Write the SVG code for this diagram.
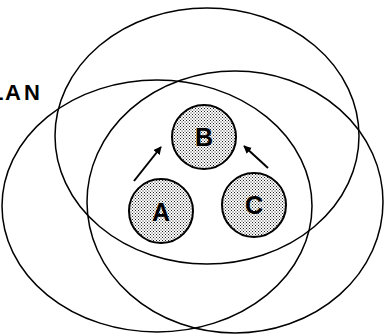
<svg xmlns="http://www.w3.org/2000/svg" width="384" height="334" viewBox="0 0 384 334">
<style>
.ell{fill:none;stroke:#000;stroke-width:1.5}
.node{fill:url(#dots);stroke:#000;stroke-width:2}
.lbl{font-family:"Liberation Sans",Arial,sans-serif;font-weight:bold;font-size:25px;text-anchor:middle;fill:#000}
.lan{font-family:"Liberation Sans",Arial,sans-serif;font-weight:bold;font-size:22px;fill:#000}
.arr{stroke:#000;stroke-width:2;marker-end:url(#ah)}
</style>
<defs>
<pattern id="dots" width="3" height="3" patternUnits="userSpaceOnUse">
<rect width="3" height="3" fill="#fff"/>
<rect x="0" y="0" width="1" height="1" fill="#222"/>
<rect x="1.5" y="1.5" width="1" height="1" fill="#222"/>
</pattern>
<marker id="ah" viewBox="0 0 10 10" refX="9" refY="5" markerWidth="4" markerHeight="4" orient="auto" markerUnits="strokeWidth">
<path d="M0,0 L10,5 L0,10 z" fill="#000"/>
</marker>
</defs>
<rect width="384" height="334" fill="#fff"/>
<g id="lans">
<ellipse class="ell" cx="207" cy="136" rx="152" ry="128"/>
<ellipse class="ell" cx="157" cy="206" rx="155" ry="126"/>
<ellipse class="ell" cx="235" cy="202" rx="148" ry="131"/>
</g>
<text class="lan" x="-10 5 24" y="100">LAN</text>
<g id="connectors">
<line class="arr" x1="134" y1="181" x2="161" y2="147"/>
<line class="arr" x1="268" y1="168" x2="244" y2="146"/>
</g>
<g id="B">
<circle class="node" cx="204" cy="137" r="32"/>
<text class="lbl" x="204" y="146">B</text>
</g>
<g id="A">
<circle class="node" cx="161" cy="211" r="32"/>
<text class="lbl" x="161" y="221">A</text>
</g>
<g id="C">
<circle class="node" cx="254" cy="205" r="32"/>
<text class="lbl" x="254" y="214">C</text>
</g>
</svg>
